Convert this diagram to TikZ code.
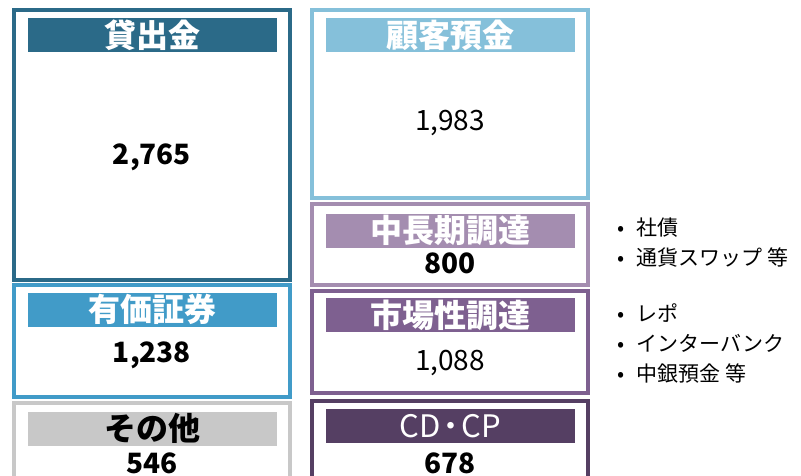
\documentclass[tikz,border=0pt]{standalone}
\usepackage{fontspec}
\setmainfont{Noto Sans CJK JP}
\usetikzlibrary{positioning}

\definecolor{loancol}{HTML}{2B6A88}
\definecolor{seccol}{HTML}{419BC8}
\definecolor{othercol}{HTML}{C8C8C8}
\definecolor{depcol}{HTML}{85C0DA}
\definecolor{longcol}{HTML}{A48DB0}
\definecolor{mktcol}{HTML}{7E6090}
\definecolor{cdcol}{HTML}{553F63}

\begin{document}
\begin{tikzpicture}[x=1pt, y=-1pt,
	panel/.style={draw=#1, line width=4pt, minimum width=276, inner sep=0},
	title/.style={fill=#1, text=white, minimum width=249, minimum height=34, inner sep=0,
		font=\fontsize{32}{32}\selectfont\bfseries},
	amount/.style={inner sep=0, font=\fontsize{28}{28}\selectfont\bfseries},
	notes/.style={anchor=north west, inner sep=0, align=left,
		font=\fontsize{21}{30}\selectfont}]
	\useasboundingbox (0,0) rectangle (801,475);
	\clip (0,0) rectangle (801,475);

	% assets
	\node[panel=loancol, minimum height=270] (loan) at (152,145) {};
	\node[panel=seccol, minimum height=112] (sec) at (152,341) {};
	\node[panel=othercol, minimum height=85] (other) at (152,445) {};

	\node[title=loancol] (loanhead) at (152.5,35) {貸出金};
	\node[title=seccol] (sechead) at (152.5,309.5) {有価証券};
	\node[title=othercol, text=black] (otherhead) at (152.5,428.5) {その他};

	\node[amount] (loanval) at (152,157) {2,765};
	\node[amount] (secval) at (152,355) {1,238};
	\node[amount] (otherval) at (152,463) {546};

	% liabilities
	\node[panel=depcol, minimum height=188] (dep) at (450,104) {};
	\node[panel=longcol, minimum height=81] (long) at (450,244.5) {};
	\node[panel=mktcol, minimum height=102] (mkt) at (450,342) {};
	\node[panel=cdcol, minimum height=87] (cd) at (450,444.5) {};

	\node[title=depcol] (dephead) at (450.5,35) {顧客預金};
	\node[title=longcol] (longhead) at (450.5,230.5) {中長期調達};
	\node[title=mktcol] (mkthead) at (450.5,315) {市場性調達};
	\node[title=cdcol, font=\fontsize{31}{31}\selectfont] (cdhead) at (450.5,426) {CD\kern-5pt・\kern-5pt CP};

	\node[amount, font=\fontsize{28}{28}\selectfont] (depval) at (450,123) {1,983};
	\node[amount] (longval) at (450,263) {800};
	\node[amount, font=\fontsize{28}{28}\selectfont] (mktval) at (450,363) {1,088};
	\node[amount] (cdval) at (450,463) {678};

	% notes
	\node[notes] (longnote) at (617,218) {•\hspace{12pt}社債\\•\hspace{12pt}通貨スワップ 等};
	\node[notes] (mktnote) at (617,303) {•\hspace{12pt}レポ\\•\hspace{12pt}インターバンク\\•\hspace{12pt}中銀預金 等};
\end{tikzpicture}
\end{document}
